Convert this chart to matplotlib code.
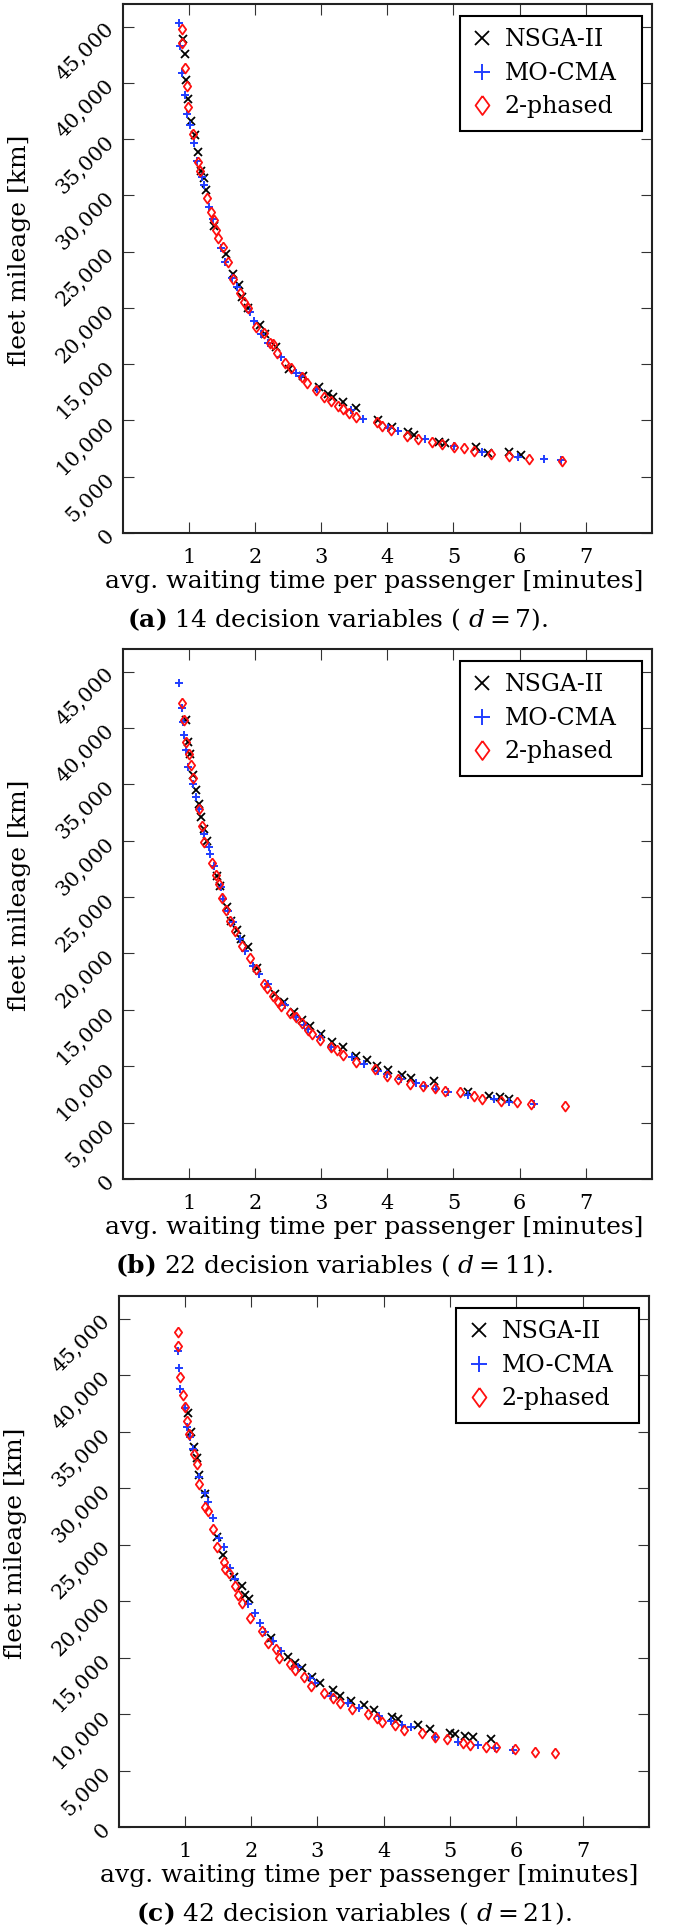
import matplotlib
matplotlib.use("Agg")
import matplotlib.pyplot as plt
from matplotlib.transforms import ScaledTranslation

plt.rcParams["font.family"] = "DejaVu Serif"
plt.rcParams["mathtext.fontset"] = "dejavuserif"

# ---- data read off the three Pareto fronts ----
# (a) 14 decision variables
nsga_a_x = [0.912, 0.937, 0.962, 0.997, 1.038, 1.088, 1.134, 1.189, 1.224, 1.265, 1.376, 1.568,
            1.669, 1.755, 1.806, 1.897, 2.073, 2.159, 2.326, 2.523, 2.73, 2.967, 3.103, 3.18,
            3.336, 3.523, 3.861, 4.079, 4.306, 4.406, 4.78, 4.871, 5.341, 5.527, 5.846, 6.023]
nsga_a_y = [43870, 42540, 40230, 38540, 36590, 35340, 33860, 32150, 31550, 30460, 27290, 24750,
            22970, 22020, 20980, 20010, 18470, 17640, 16540, 14570, 13940, 12940, 12340, 12050,
            11660, 11070, 10030, 9440, 9000, 8700, 8100, 8020, 7660, 7130, 7220, 6930]
mocma_a_x = [0.861, 0.871, 0.897, 0.947, 0.982, 1.023, 1.073, 1.124, 1.2, 1.224, 1.311, 1.366,
             1.487, 1.553, 1.654, 1.73, 1.921, 1.992, 2.094, 2.2, 2.4, 2.615, 2.70, 2.94,
             3.447, 3.639, 4.012, 4.155, 4.568, 5.003, 5.432, 5.982, 6.361, 6.629]
mocma_a_y = [45320, 43250, 40880, 38890, 37270, 36290, 34660, 33030, 31590, 30900, 28920, 27880,
             25280, 24090, 22620, 21870, 19650, 18830, 17640, 16900, 15660, 14210, 13920, 12760,
             10920, 10120, 9300, 9080, 8320, 7730, 7220, 6780, 6570, 6480]
twoph_a_x = [0.897, 0.906, 0.937, 0.967, 0.997, 1.063, 1.139, 1.174, 1.28, 1.336, 1.376, 1.412,
             1.437, 1.518, 1.588, 1.669, 1.77, 1.841, 1.891, 2.023, 2.133, 2.224, 2.27, 2.336,
             2.456, 2.55, 2.715, 2.78, 2.917, 3.043, 3.155, 3.255, 3.33, 3.42, 3.523, 3.841,
             3.927, 4.053, 4.295, 4.467, 4.674, 4.826, 5.012, 5.155, 5.306, 5.568, 5.846, 6.139,
             6.639]
twoph_a_y = [44820, 43570, 41320, 39690, 37860, 35490, 32970, 32170, 29780, 28530, 27790, 26910,
             26230, 25420, 24100, 22530, 21290, 20490, 19950, 18320, 17730, 16850, 16760, 16030,
             15120, 14700, 13880, 13290, 12700, 12100, 11750, 11280, 10990, 10680, 10330, 9880,
             9500, 9150, 8610, 8320, 8110, 7900, 7660, 7520, 7280, 7020, 6840, 6600,
             6370]

# (b) 22 decision variables
nsga_b_x = [0.962, 0.997, 1.023, 1.063, 1.114, 1.149, 1.185, 1.235, 1.275, 1.427, 1.467, 1.578,
            1.639, 1.73, 1.79, 1.891, 2.033, 2.30, 2.436, 2.589, 2.715, 2.84, 2.992, 3.17,
            3.336, 3.523, 3.689, 3.841, 4.012, 4.23, 4.366, 4.7, 5.215, 5.543, 5.71, 5.846]
nsga_b_y = [40690, 38760, 37720, 35790, 34460, 33270, 32090, 31050, 30010, 26890, 26000, 24080,
            22890, 22070, 21260, 20530, 18750, 16420, 15690, 14770, 14080, 13550, 12900, 12130,
            11720, 10940, 10530, 10050, 9700, 9250, 8960, 8660, 7680, 7380, 7230, 7090]
mocma_b_x = [0.861, 0.897, 0.912, 0.932, 0.962, 0.997, 1.063, 1.114, 1.149, 1.224, 1.3, 1.326,
             1.376, 1.487, 1.518, 1.588, 1.669, 1.78, 1.856, 1.973, 2.058, 2.2, 2.45, 2.62,
             2.735, 2.8, 2.982, 3.144, 3.473, 3.649, 3.861, 3.992, 4.205, 4.432, 4.568, 4.735,
             4.912, 5.215, 5.609, 5.846, 6.224]
mocma_b_y = [43950, 41790, 40540, 39350, 38020, 36540, 35050, 33870, 32830, 30600, 29420, 28830,
             27790, 25860, 24820, 23780, 22750, 21260, 20220, 18890, 18150, 17300, 15400, 14350,
             13700, 13320, 12610, 11720, 10830, 10230, 9550, 9340, 8870, 8510, 8270, 7980,
             7740, 7470, 7090, 6790, 6670]
twoph_b_x = [0.906, 0.932, 0.962, 1.008, 1.033, 1.063, 1.149, 1.2, 1.235, 1.351, 1.417, 1.452,
             1.503, 1.568, 1.629, 1.705, 1.806, 1.921, 2.023, 2.136, 2.19, 2.27, 2.35, 2.40,
             2.536, 2.615, 2.715, 2.80, 2.867, 2.982, 3.144, 3.245, 3.336, 3.523, 3.811, 3.992,
             4.164, 4.346, 4.533, 4.725, 4.871, 5.103, 5.315, 5.432, 5.72, 5.962, 6.174, 6.679]
twoph_b_y = [42170, 40690, 38760, 37720, 36740, 35590, 32830, 31340, 29920, 28000, 26990, 26160,
             24890, 23840, 22890, 22000, 20670, 19570, 18590, 17320, 16960, 16230, 15690, 15320,
             14700, 14410, 13850, 13190, 12900, 12300, 11720, 11420, 11030, 10350, 9760, 9160,
             8870, 8450, 8270, 8030, 7830, 7680, 7380, 7090, 6880, 6790, 6650, 6430]

# (c) 42 decision variables
nsga_c_x = [1.049, 1.1, 1.134, 1.185, 1.21, 1.31, 1.486, 1.571, 1.737, 1.863, 1.913, 1.962,
            2.304, 2.556, 2.667, 2.767, 2.917, 3.042, 3.233, 3.343, 3.505, 3.705, 3.855, 4.122,
            4.222, 4.523, 4.699, 5.0, 5.075, 5.226, 5.342, 5.617]
nsga_c_y = [36670, 34990, 33660, 32630, 31150, 29470, 25640, 24070, 22100, 21330, 20530, 20150,
            16700, 15060, 14550, 14040, 13300, 12720, 12120, 11590, 11180, 10800, 10350, 9710,
            9530, 9030, 8650, 8350, 8230, 8050, 7940, 7750]
mocma_c_x = [0.893, 0.919, 0.934, 0.999, 1.034, 1.084, 1.119, 1.22, 1.3, 1.351, 1.42, 1.511,
             1.586, 1.687, 1.752, 1.953, 2.053, 2.139, 2.214, 2.337, 2.45, 2.70, 2.881, 2.967,
             3.203, 3.468, 3.634, 3.935, 4.107, 4.272, 4.408, 4.774, 5.125, 5.426, 5.678, 5.953]
mocma_c_y = [42150, 40590, 38740, 37050, 35370, 34490, 33430, 31000, 29590, 28790, 27320, 25550,
             24750, 22900, 21920, 19740, 18970, 18080, 17290, 16460, 15600, 14200, 13160, 12720,
             11590, 11000, 10500, 9820, 9410, 9030, 8820, 7990, 7550, 7260, 6960, 6810]
twoph_c_x = [0.893, 0.893, 0.923, 0.969, 0.999, 1.034, 1.069, 1.134, 1.185, 1.22, 1.3, 1.351,
             1.42, 1.486, 1.586, 1.611, 1.661, 1.752, 1.802, 1.863, 1.977, 2.164, 2.258, 2.377,
             2.423, 2.589, 2.667, 2.791, 2.907, 3.102, 3.233, 3.343, 3.52, 3.77, 3.905, 3.971,
             4.172, 4.307, 4.574, 4.774, 4.95, 5.2, 5.301, 5.542, 5.693, 5.979, 6.28, 6.581]
twoph_c_y = [43840, 42600, 39850, 38230, 37200, 35960, 34780, 33010, 32130, 30360, 28350, 27990,
             26350, 24810, 23480, 22810, 22450, 21330, 20530, 19800, 18470, 17370, 16280, 15730,
             14990, 14440, 13890, 13250, 12480, 11890, 11390, 10950, 10420, 10000, 9620, 9320,
             9030, 8580, 8350, 7990, 7760, 7460, 7260, 7110, 7050, 6900, 6660, 6580]

series_names = ["NSGA-II", "MO-CMA", "2-phased"]
xtick_vals = [1, 2, 3, 4, 5, 6, 7]
ytick_vals = [0, 5000, 10000, 15000, 20000, 25000, 30000, 35000, 40000, 45000]
captions = [
    r"$\mathbf{(a)}$ 14 decision variables ( $d = 7$).",
    r"$\mathbf{(b)}$ 22 decision variables ( $d = 11$).",
    r"$\mathbf{(c)}$ 42 decision variables ( $d = 21$).",
]

W, H = 685, 1927
fig = plt.figure(figsize=(W / 100, H / 100), dpi=100)

# axes boxes in pixels: left, top, right, bottom
boxes = [(122.5, 4, 652, 533), (122.5, 649, 652, 1179), (118.5, 1296, 649, 1827)]
caption_x = [338, 334, 354]
xlabel_x = [374, 374, 369]

data = [
    ((nsga_a_x, nsga_a_y), (mocma_a_x, mocma_a_y), (twoph_a_x, twoph_a_y)),
    ((nsga_b_x, nsga_b_y), (mocma_b_x, mocma_b_y), (twoph_b_x, twoph_b_y)),
    ((nsga_c_x, nsga_c_y), (mocma_c_x, mocma_c_y), (twoph_c_x, twoph_c_y)),
]

diamond = [(0, 1), (0.73, 0), (0, -1), (-0.73, 0), (0, 1)]
styles = [
    dict(marker="x", ms=5.5, mew=1.3, color="black"),
    dict(marker="+", ms=6.3, mew=1.4, color="#1f3dff"),
    dict(marker=diamond, ms=7.2, mew=1.3, color="#ff1010", mfc="none"),
]

down = ScaledTranslation(0, -0.13, fig.dpi_scale_trans)

for i, (l, t, r, b) in enumerate(boxes):
    ax = fig.add_axes([l / W, 1 - b / H, (r - l) / W, (b - t) / H])
    for (xs, ys), st, name in zip(data[i], styles, series_names):
        ax.plot(xs, ys, ls="none", label=name, **st)

    ax.set_xlim(0, 8)
    ax.set_ylim(0, 47000)
    ax.set_xticks(xtick_vals)
    ax.set_xticklabels([str(v) for v in xtick_vals])
    ax.set_yticks(ytick_vals)
    ax.set_yticklabels([f"{v:,}" for v in ytick_vals], rotation=45,
                       ha="right", va="center", rotation_mode="anchor")
    for lab in ax.get_yticklabels():
        lab.set_transform(lab.get_transform() + down)

    ax.tick_params(direction="in", length=7.9, width=0.8, color="#333333",
                   top=True, right=True, labelsize=15)
    ax.tick_params(axis="x", pad=11)
    ax.tick_params(axis="y", pad=8)
    for sp in ax.spines.values():
        sp.set_linewidth(1.5)
        sp.set_color("#222222")

    ax.set_xlabel("avg. waiting time per passenger [minutes]", fontsize=18)
    ax.xaxis.label.set_verticalalignment("baseline")
    ax.xaxis.set_label_coords((xlabel_x[i] - l) / (r - l), -55 / (b - t))
    ax.set_ylabel("fleet mileage [km]", fontsize=18)
    ax.yaxis.set_label_coords(-0.173, 0.535)

    leg = ax.legend(loc="upper right", bbox_to_anchor=(0.637, 0.5, 0.344, 0.478),
                    mode="expand", borderaxespad=0, fontsize=17, markerscale=1.9,
                    borderpad=0.54, labelspacing=0.44, handlelength=0.79,
                    handletextpad=0.58, fancybox=False, edgecolor="black", framealpha=1)
    leg.get_frame().set_linewidth(1.5)

    fig.text(caption_x[i] / W, 1 - (b + 94) / H, captions[i], ha="center",
             va="baseline", fontsize=18)

fig.savefig("out.png", dpi=100)
